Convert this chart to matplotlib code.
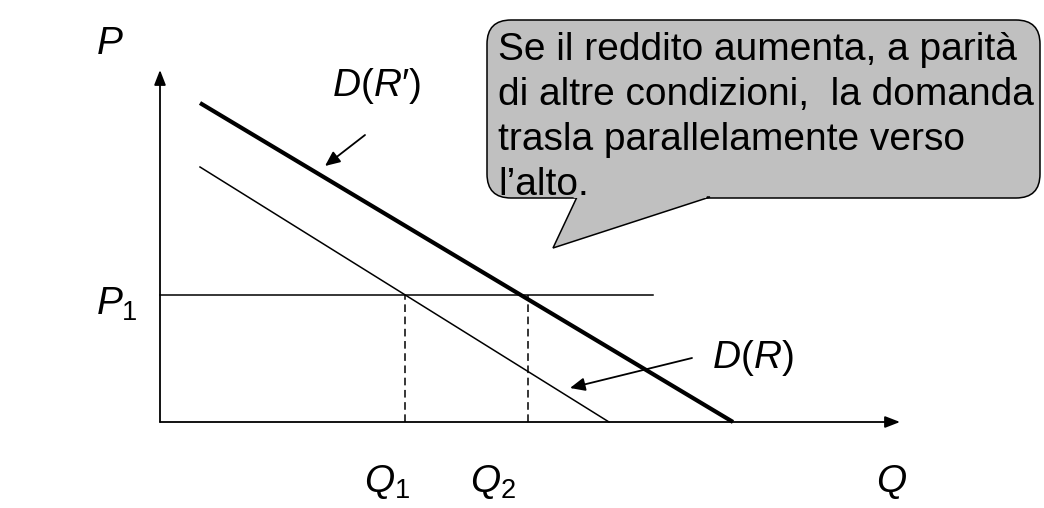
import matplotlib
matplotlib.use('Agg')
import matplotlib.pyplot as plt
from matplotlib.patches import FancyBboxPatch, Polygon

plt.rcParams['font.family'] = ['Liberation Sans', 'DejaVu Sans']
plt.rcParams['mathtext.fontset'] = 'custom'
plt.rcParams['mathtext.it'] = 'Liberation Sans:italic'
plt.rcParams['mathtext.rm'] = 'Liberation Sans'
plt.rcParams['mathtext.sf'] = 'Liberation Sans'

# diagram units: origin at the axes corner, Q to the right, P upward
Q_MAX = 740
P_MAX = 352
demand_R = [(40, 255), (449, 0)]      # D(R)
demand_R2 = [(40, 319), (573, 0)]     # D(R')
P1 = 127
P1_LINE_END = 493
Q1 = 245
Q2 = 368

callout_text = ("Se il reddito aumenta, a parità\n"
                "di altre condizioni,  la domanda\n"
                "trasla parallelamente verso\n"
                "l\u2019alto.")

fig = plt.figure(figsize=(10.44, 5.08), dpi=100)
ax = fig.add_axes([0, 0, 1, 1])
ax.set_xlim(-160, 884)
ax.set_ylim(-86, 422)
ax.axis('off')

# axes with arrow heads
arrow_kw = dict(arrowstyle='-|>,head_length=0.9,head_width=0.35', color='black', lw=1.3,
                shrinkA=0, shrinkB=0)
ax.annotate('', xy=(Q_MAX, 0), xytext=(0, 0), arrowprops=arrow_kw)
ax.annotate('', xy=(0, P_MAX), xytext=(0, 0), arrowprops=arrow_kw)

# demand curves
ax.plot([p[0] for p in demand_R], [p[1] for p in demand_R], color='black', lw=1.1)
ax.plot([p[0] for p in demand_R2], [p[1] for p in demand_R2], color='black', lw=3.0,
        solid_capstyle='butt')

# price level and quantities
ax.plot([0, P1_LINE_END], [P1, P1], color='black', lw=1.1)
ax.plot([Q1, Q1], [0, P1], color='black', lw=1.1, ls=(0, (5, 3)))
ax.plot([Q2, Q2], [0, P1], color='black', lw=1.1, ls=(0, (5, 3)))

# labels
fs = 28
ax.text(-64, 378, '$P$', fontsize=fs, ha='left', va='center')
ax.text(-64, 118, '$P_1$', fontsize=fs, ha='left', va='center')
ax.text(Q1 - 41, -60, '$Q_1$', fontsize=fs, ha='left', va='center')
ax.text(Q2 - 58, -60, '$Q_2$', fontsize=fs, ha='left', va='center')
ax.text(716, -60, '$Q$', fontsize=fs, ha='left', va='center')

ax.text(172, 336, "$D(R$\u2032$)$", fontsize=fs, ha='left', va='center')
ax.text(552, 64, "$D(R)$", fontsize=fs, ha='left', va='center')

pointer_kw = dict(arrowstyle='-|>,head_length=0.9,head_width=0.4', color='black', lw=1.3,
                  shrinkA=0, shrinkB=0)
ax.annotate('', xy=(165, 256), xytext=(205, 287), arrowprops=pointer_kw)
ax.annotate('', xy=(410, 34), xytext=(532, 64), arrowprops=pointer_kw)

# callout box
box = FancyBboxPatch((327, 224), 553, 178, boxstyle='round,pad=0,rounding_size=24',
                     facecolor='#c0c0c0', edgecolor='black', lw=1.1, zorder=3)
ax.add_patch(box)
tail = Polygon([(417, 225), (393, 174), (550, 225)], closed=True,
               facecolor='#c0c0c0', edgecolor='black', lw=1.1, zorder=4)
ax.add_patch(tail)
cover = Polygon([(419, 228), (413, 224), (546, 224), (548, 228)], closed=True,
                facecolor='#c0c0c0', edgecolor='none', zorder=5)
ax.add_patch(cover)
ax.text(338, 390, callout_text, fontsize=fs, ha='left', va='top', linespacing=1.32, zorder=6)

fig.savefig('out.png', dpi=100)
